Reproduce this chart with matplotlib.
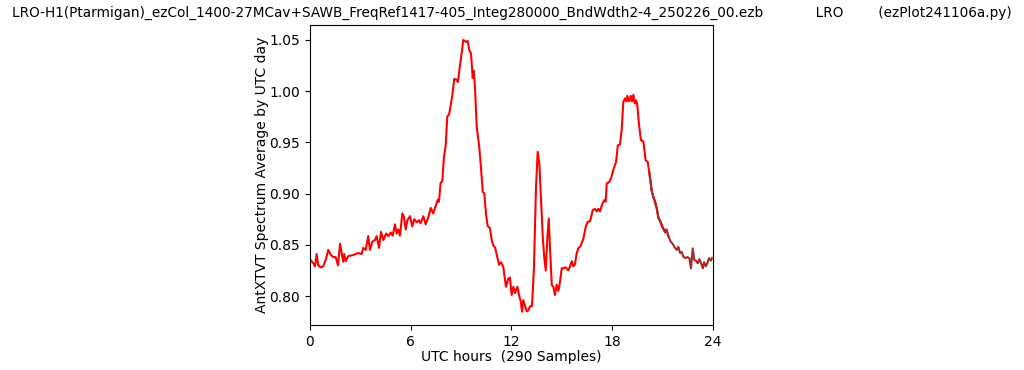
import matplotlib
matplotlib.use("Agg")
import matplotlib.pyplot as plt

# day 1 (red)
hours_a = [0.04, 0.20, 0.30, 0.40, 0.49, 0.64, 0.79, 0.95, 1.09, 1.25, 1.39, 1.53, 1.67, 1.79, 1.89,
           1.98, 2.04, 2.13, 2.28, 2.58, 2.88, 3.08, 3.17, 3.32, 3.47, 3.57, 3.71, 3.87, 3.97, 4.11,
           4.23, 4.37, 4.53, 4.66, 4.81, 4.93, 5.06, 5.16, 5.26, 5.36, 5.50, 5.60, 5.70, 5.80, 5.96,
           6.09, 6.21, 6.36, 6.49, 6.59, 6.75, 6.89, 7.05, 7.19, 7.34, 7.49, 7.61, 7.68, 7.78, 7.88,
           7.98, 8.08, 8.18, 8.28, 8.40, 8.50, 8.59, 8.74, 8.81, 8.93, 9.04, 9.13, 9.23, 9.29, 9.39,
           9.49, 9.59, 9.69, 9.75, 9.83, 9.93, 10.08, 10.18, 10.29, 10.38, 10.48, 10.58, 10.72, 10.82,
           10.92, 11.02, 11.12, 11.26, 11.38, 11.51, 11.67, 11.81, 11.91, 12.01, 12.11, 12.21, 12.35,
           12.47, 12.55, 12.63, 12.70, 12.81, 12.91, 13.00, 13.10, 13.22, 13.34, 13.46, 13.56, 13.66,
           13.76, 13.86, 13.95, 14.04, 14.13, 14.22, 14.29, 14.40, 14.49, 14.59, 14.69, 14.79, 14.89,
           14.99, 15.09, 15.19, 15.29, 15.38, 15.49, 15.59, 15.68, 15.78, 15.88, 15.98, 16.12, 16.28,
           16.42, 16.54, 16.68, 16.84, 16.97, 17.08, 17.17, 17.27, 17.41, 17.53, 17.61, 17.67, 17.81,
           17.93, 18.06, 18.23, 18.33, 18.46, 18.56, 18.66, 18.76, 18.84, 18.90, 19.00, 19.10, 19.18,
           19.26, 19.34, 19.42, 19.49, 19.59, 19.71, 19.85, 19.99, 20.11, 20.21, 20.35, 20.45, 20.55,
           20.65, 20.74, 20.85, 20.95, 21.04, 21.14, 21.24, 21.34]
values_a = [0.835, 0.832, 0.829, 0.841, 0.830, 0.828, 0.829, 0.836, 0.845, 0.840, 0.838, 0.838, 0.830,
            0.851, 0.842, 0.8335, 0.841, 0.834, 0.839, 0.840, 0.842, 0.841, 0.847, 0.845, 0.8585, 0.845,
            0.853, 0.8546, 0.8585, 0.847, 0.8627, 0.8546, 0.861, 0.8585, 0.862, 0.859, 0.870, 0.861,
            0.865, 0.859, 0.8806, 0.877, 0.865, 0.874, 0.878, 0.868, 0.875, 0.872, 0.874, 0.871, 0.878,
            0.870, 0.877, 0.886, 0.8806, 0.888, 0.894, 0.892, 0.9105, 0.912, 0.936, 0.947, 0.9755, 0.977,
            0.988, 0.999, 1.012, 1.011, 1.009, 1.025, 1.038, 1.050, 1.049, 1.048, 1.049, 1.040, 1.037,
            1.013, 1.020, 1.0025, 0.965, 0.9456, 0.926, 0.9017, 0.900, 0.8806, 0.8685, 0.866, 0.855,
            0.849, 0.8475, 0.8405, 0.8305, 0.833, 0.8285, 0.809, 0.817, 0.818, 0.801, 0.809, 0.803, 0.809,
            0.7994, 0.795, 0.7847, 0.796, 0.790, 0.785, 0.786, 0.790, 0.790, 0.8286, 0.9066, 0.9407,
            0.929, 0.8936, 0.858, 0.838, 0.825, 0.855, 0.8757, 0.848, 0.8107, 0.809, 0.801, 0.811, 0.805,
            0.814, 0.827, 0.827, 0.828, 0.827, 0.825, 0.829, 0.834, 0.829, 0.831, 0.8416, 0.8465, 0.849,
            0.856, 0.8676, 0.8725, 0.873, 0.884, 0.885, 0.8826, 0.885, 0.8826, 0.890, 0.8935, 0.892,
            0.910, 0.911, 0.915, 0.923, 0.931, 0.947, 0.948, 0.962, 0.9895, 0.993, 0.990, 0.9955, 0.990,
            0.9955, 0.990, 0.9965, 0.988, 0.991, 0.987, 0.968, 0.952, 0.951, 0.9326, 0.931, 0.9196,
            0.9034, 0.896, 0.893, 0.885, 0.878, 0.8725, 0.870, 0.8655, 0.8646, 0.864, 0.8585]

# day 2 (brown), only the late hours
hours_b = [20.21, 20.35, 20.45, 20.55, 20.65, 20.74, 20.85, 20.95, 21.04, 21.14, 21.24, 21.34, 21.48,
           21.60, 21.70, 21.84, 21.94, 22.04, 22.14, 22.23, 22.35, 22.47, 22.59, 22.69, 22.79, 22.89,
           22.99, 23.09, 23.19, 23.29, 23.39, 23.47, 23.57, 23.66, 23.76, 23.87, 23.94]
values_b = [0.921, 0.902, 0.897, 0.891, 0.886, 0.876, 0.874, 0.868, 0.866, 0.862, 0.865, 0.8585, 0.853,
            0.851, 0.848, 0.845, 0.848, 0.842, 0.843, 0.8385, 0.837, 0.838, 0.837, 0.827, 0.8465, 0.835,
            0.8345, 0.832, 0.836, 0.832, 0.827, 0.833, 0.829, 0.832, 0.837, 0.8345, 0.837]

title = ("LRO-H1(Ptarmigan)_ezCol_1400-27MCav+SAWB_FreqRef1417-405_Integ280000_BndWdth2-4_250226_00.ezb"
         "            LRO        (ezPlot241106a.py)")

fig = plt.figure(figsize=(10.24, 3.70), dpi=100)
ax = fig.add_axes([0.3027, 0.1216, 0.3936, 0.8108])

ax.plot(hours_a, values_a, color="red", linewidth=1.5)
ax.plot(hours_b, values_b, color="brown", linewidth=1.5)

ax.set_xlim(0, 24)
ax.set_ylim(0.7717, 1.0646)
ax.set_xticks([0, 6, 12, 18, 24])
ax.set_title(title, fontsize=9.8)
ax.set_xlabel("UTC hours  (290 Samples)", labelpad=1)
ax.set_ylabel("AntXTVT Spectrum Average by UTC day", labelpad=0)

fig.savefig("out.png", dpi=100)
